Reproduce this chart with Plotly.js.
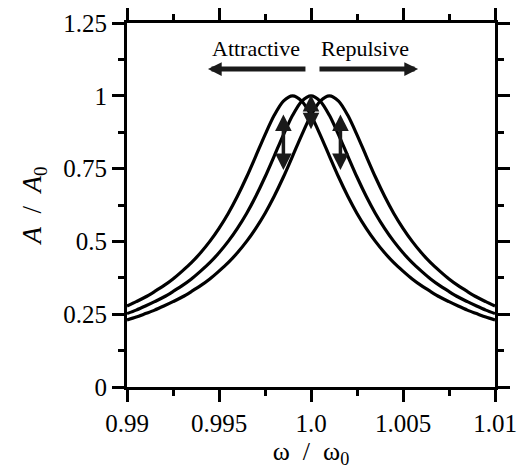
<!DOCTYPE html>
<html>
<head>
<meta charset="utf-8">
<script src="https://cdn.plot.ly/plotly-3.0.1.min.js"></script>
<style>html,body{margin:0;padding:0;background:#fff;}#chart{width:519px;height:474px;}</style>
</head>
<body>
<div id="chart"></div>
<script>
// frequency ratio omega/omega0
var omega = [0.99,0.9905,0.991,0.9915,0.992,0.9925,0.993,0.9935,0.994,0.9945,0.995,0.9955,0.996,0.9965,0.997,0.9975,0.998,0.9985,0.999,0.9995,1.0,1.0005,1.001,1.0015,1.002,1.0025,1.003,1.0035,1.004,1.0045,1.005,1.0055,1.006,1.0065,1.007,1.0075,1.008,1.0085,1.009,1.0095,1.01];
// A/A0, attractive-shifted curve (peak left of 1)
var ampAttractive = [0.278,0.293,0.309,0.328,0.348,0.371,0.398,0.427,0.461,0.500,0.545,0.596,0.655,0.721,0.793,0.866,0.933,0.982,1.000,0.982,0.933,0.866,0.793,0.721,0.655,0.596,0.545,0.500,0.461,0.427,0.398,0.371,0.348,0.328,0.309,0.293,0.278,0.264,0.252,0.240,0.230];
// A/A0, free resonance
var ampFree = [0.252,0.264,0.278,0.293,0.309,0.328,0.348,0.371,0.398,0.427,0.461,0.500,0.545,0.596,0.655,0.721,0.793,0.866,0.933,0.982,1.000,0.982,0.933,0.866,0.793,0.721,0.655,0.596,0.545,0.500,0.461,0.427,0.398,0.371,0.348,0.328,0.309,0.293,0.278,0.264,0.252];
// A/A0, repulsive-shifted curve (peak right of 1)
var ampRepulsive = [0.230,0.240,0.252,0.264,0.278,0.293,0.309,0.328,0.348,0.371,0.398,0.427,0.461,0.500,0.545,0.596,0.655,0.721,0.793,0.866,0.933,0.982,1.000,0.982,0.933,0.866,0.793,0.721,0.655,0.596,0.545,0.500,0.461,0.427,0.398,0.371,0.348,0.328,0.309,0.293,0.278];

var xTickVals = [0.99,0.995,1.0,1.005,1.01];
var xTickText = ['0.99','0.995','1.0','1.005','1.01'];
var yTickVals = [0,0.25,0.5,0.75,1,1.25];
var yTickText = ['0','0.25','0.5','0.75','1','1.25'];

var lineStyle = {color:'#000', width:3.2, shape:'spline', smoothing:0.8};
var traces = [ampAttractive, ampFree, ampRepulsive].map(function(a){
  return {x:omega, y:a, type:'scatter', mode:'lines', line:lineStyle, hoverinfo:'skip', showlegend:false};
});

var FONT = 'Liberation Serif, Times New Roman, serif';
var arrowCol = '#1a1a1a';
function arrow(x, y, ax, ay, w, size, both){
  return {x:x, y:y, ax:ax, ay:ay, xref:'x', yref:'y', axref:'x', ayref:'y', text:'', showarrow:true,
    arrowhead:2, arrowsize:size, arrowwidth:w, arrowcolor:arrowCol, arrowside: both ? 'end+start' : 'end', standoff:0, startstandoff:0};
}

var layout = {
  width:519, height:474,
  margin:{l:127, r:24, t:23, b:87},
  paper_bgcolor:'#fff', plot_bgcolor:'#fff',
  font:{family:FONT, color:'#000', size:25},
  xaxis:{range:[0.99,1.01], tickvals:xTickVals, ticktext:xTickText, ticks:'outside', ticklen:12, tickwidth:3, tickcolor:'#000',
    showline:true, linewidth:3, linecolor:'#000', mirror:'allticks', showgrid:false, zeroline:false,
    minor:{dtick:0.0025, ticklen:6, tickwidth:3, tickcolor:'#000', ticks:'outside'},
    tickfont:{family:FONT, size:25}, title:{text:'ω&nbsp;&nbsp;/&nbsp;&nbsp;ω<sub>0</sub>', font:{family:FONT, size:26}, standoff:4}},
  yaxis:{range:[0,1.25], tickvals:yTickVals, ticktext:yTickText, ticks:'outside', ticklen:12, tickwidth:3, tickcolor:'#000',
    showline:true, linewidth:3, linecolor:'#000', mirror:'allticks', showgrid:false, zeroline:false,
    minor:{dtick:0.125, ticklen:6, tickwidth:3, tickcolor:'#000', ticks:'outside'},
    tickfont:{family:FONT, size:25}, title:{text:'<i>A</i>&nbsp;&nbsp;/&nbsp;&nbsp;<i>A</i><sub>0</sub>', font:{family:FONT, size:27}, standoff:14}},
  annotations:[
    {x:0.99701, y:1.164, xref:'x', yref:'y', text:'Attractive', showarrow:false, font:{family:FONT, size:22, color:'#000'}},
    {x:1.00296, y:1.164, xref:'x', yref:'y', text:'Repulsive', showarrow:false, font:{family:FONT, size:22, color:'#000'}},
    arrow(0.9944, 1.092, 0.99978, 1.092, 5, 0.55, false),
    arrow(1.00582, 1.092, 1.00038, 1.092, 5, 0.55, false),
    arrow(0.9985, 0.745, 0.9985, 0.941, 3.5, 0.95, true),
    arrow(1.0, 0.885, 1.0, 1.008, 3.5, 0.95, true),
    arrow(1.0016, 0.745, 1.0016, 0.941, 3.5, 0.95, true)
  ]
};
Plotly.newPlot('chart', traces, layout, {staticPlot:true, displayModeBar:false});
</script>
</body>
</html>
